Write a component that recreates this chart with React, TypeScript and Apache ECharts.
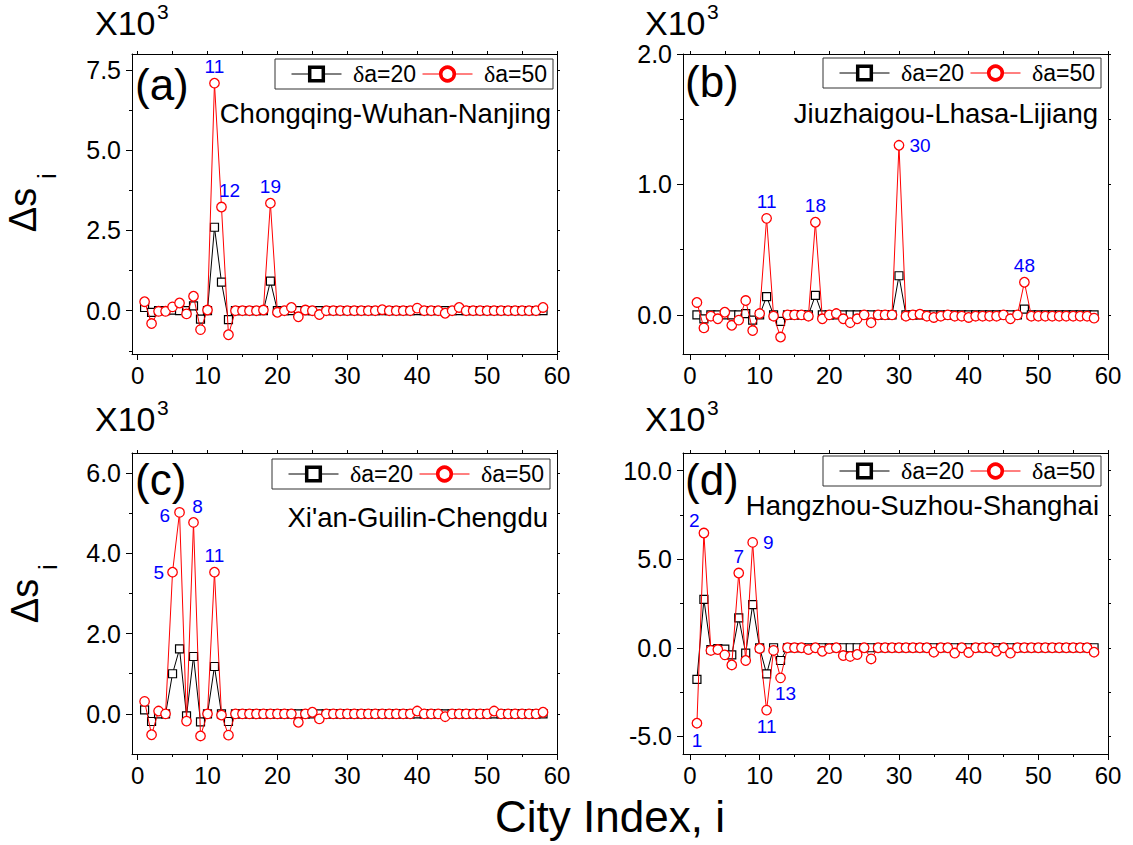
import React, { useEffect, useRef } from "react";
import * as echarts from "echarts";

// ---------- data ----------
const cityIndex = [
  1, 2, 3, 4, 5, 6, 7, 8, 9, 10, 11, 12, 13, 14, 15, 16, 17, 18, 19, 20,
  21, 22, 23, 24, 25, 26, 27, 28, 29, 30, 31, 32, 33, 34, 35, 36, 37, 38, 39, 40,
  41, 42, 43, 44, 45, 46, 47, 48, 49, 50, 51, 52, 53, 54, 55, 56, 57, 58,
];

const seriesNames = ["δa=20", "δa=50"];

// (a) Chongqing-Wuhan-Nanjing  (x10^3)
const ds20A = [
  0.1, -0.05, 0, 0, 0.02, 0, 0, 0.15, -0.26, 0,
  2.6, 0.89, -0.28, 0, 0, 0, 0, 0, 0.92, 0,
  0, 0, 0, 0, 0, 0, 0, 0, 0, 0,
  0, 0, 0, 0, 0, 0, 0, 0, 0, 0,
  0, 0, 0, 0, 0, 0, 0, 0, 0, 0,
  0, 0, 0, 0, 0, 0, 0, 0,
];
const ds50A = [
  0.28, -0.4, -0.02, -0.02, 0.12, 0.24, -0.1, 0.45, -0.59, 0.02,
  7.09, 3.23, -0.75, 0, 0, 0, 0, 0.02, 3.35, -0.05,
  0, 0.1, -0.19, 0.02, 0, -0.12, 0, 0, 0, 0,
  0, 0, 0, 0, 0.03, 0, 0, 0, 0, 0.08,
  0, 0, 0, -0.08, 0, 0.1, 0, 0, 0, 0,
  0, 0, 0, 0, 0, 0, 0, 0.1,
];

// (b) Jiuzhaigou-Lhasa-Lijiang
const ds20B = [
  0, -0.03, 0, 0, 0, 0, 0, 0.01, -0.04, 0,
  0.14, 0, -0.05, 0, 0, 0, 0, 0.15, 0, 0,
  0, 0, 0, 0, 0, 0, 0, 0, 0, 0.3,
  0, 0, 0, 0, 0, 0, 0, 0, 0, 0,
  0, 0, 0, 0, 0, 0, 0, 0.044, 0, 0,
  0, 0, 0, 0, 0, 0, 0, 0,
];
const ds50B = [
  0.095, -0.1, -0.01, -0.03, 0.02, -0.08, -0.04, 0.11, -0.12, 0.01,
  0.74, -0.01, -0.17, 0, 0, 0, -0.01, 0.71, -0.03, 0,
  0.01, -0.03, -0.06, -0.03, 0, -0.06, 0, 0, 0, 1.3,
  -0.01, 0, 0.005, -0.01, -0.02, -0.01, 0, -0.01, -0.01, -0.02,
  -0.01, -0.01, -0.01, -0.01, 0, -0.03, 0, 0.25, -0.01, -0.01,
  -0.01, -0.01, -0.01, -0.01, -0.01, -0.01, -0.01, -0.025,
];

// (c) Xi'an-Guilin-Chengdu
const ds20C = [
  0.1, -0.19, 0, 0, 1.0, 1.62, -0.05, 1.43, -0.2, 0,
  1.18, 0, -0.19, 0, 0, 0, 0, 0, 0, 0,
  0, 0, 0, 0, 0, 0, 0, 0, 0, 0,
  0, 0, 0, 0, 0, 0, 0, 0, 0, 0,
  0, 0, 0, 0, 0, 0, 0, 0, 0, 0,
  0, 0, 0, 0, 0, 0, 0, 0,
];
const ds50C = [
  0.31, -0.52, 0.07, 0, 3.53, 5.02, -0.18, 4.77, -0.55, 0,
  3.53, -0.03, -0.53, 0, 0, 0, 0, 0, 0, 0,
  0, 0, -0.21, 0, 0.04, -0.125, 0, 0, 0, 0,
  0, 0, 0, 0, 0, 0, 0, 0, 0, 0.07,
  0, 0, 0, -0.07, 0, 0, 0, 0, 0, 0,
  0.07, 0, 0, 0, 0, 0, 0, 0.04,
];

// (d) Hangzhou-Suzhou-Shanghai
const ds20D = [
  -1.78, 2.73, -0.1, -0.05, -0.08, -0.4, 1.69, -0.3, 2.44, 0,
  -1.48, 0, -0.72, 0, 0, 0, 0, 0, 0, 0,
  0, 0, 0, 0, 0, 0, 0, 0, 0, 0,
  0, 0, 0, 0, 0, 0, 0, 0, 0, 0,
  0, 0, 0, 0, 0, 0, 0, 0, 0, 0,
  0, 0, 0, 0, 0, 0, 0, 0,
];
const ds50D = [
  -4.26, 6.48, -0.15, -0.1, -0.4, -0.97, 4.22, -0.72, 5.95, -0.04,
  -3.52, -0.15, -1.7, 0, 0, 0, -0.1, 0, -0.2, -0.05,
  0, -0.44, -0.49, -0.38, 0, -0.63, 0, 0, 0, 0,
  0, 0, 0, 0, -0.25, 0, 0, -0.3, 0, -0.27,
  0, 0, 0, -0.2, 0, -0.3, 0, 0, 0, 0,
  0, 0, 0, 0, 0, 0, 0, -0.25,
];

// tick labels
const xMajorTicks = [0, 10, 20, 30, 40, 50, 60];
const xMinorTicks = [5, 15, 25, 35, 45, 55];
const yMajorA = [0, 2.5, 5.0, 7.5];
const yMinorA = [-1.25, 1.25, 3.75, 6.25];
const yMajorB = [0, 1.0, 2.0];
const yMinorB = [0.5, 1.5];
const yMajorC = [0, 2.0, 4.0, 6.0];
const yMinorC = [1.0, 3.0, 5.0];
const yMajorD = [-5.0, 0, 5.0, 10.0];
const yMinorD = [-2.5, 2.5, 7.5];

// annotated city indices
const annA = [11, 12, 19];
const annB = [11, 18, 30, 48];
const annC = [5, 6, 8, 11];
const annD = [1, 2, 7, 9, 11, 13];

const panelLetters = ["(a)", "(b)", "(c)", "(d)"];
const routes = [
  "Chongqing-Wuhan-Nanjing",
  "Jiuzhaigou-Lhasa-Lijiang",
  "Xi'an-Guilin-Chengdu",
  "Hangzhou-Suzhou-Shanghai",
];
const scaleText = "X10";
const scaleExp = "3";
const yTitle = "Δs";
const yTitleSub = "i";
const xTitle = "City Index, i";

// ---------- layout / style (not data) ----------
const FONT = "'Liberation Sans', Arial, sans-serif";

const layout = [
  { grid: { left: 132, top: 54, width: 425, height: 300 }, xMin: -0.8, yMin: -1.35, yMax: 8.0,
    legend: { left: 275, top: 59 }, route: { x: 551, y: 113 }, letter: { x: 135, y: 84 },
    scale: { x: 95, y: 23 }, ytitle: { x: 23, y: 210, sx: 47, sy: 176 } },
  { grid: { left: 683, top: 54, width: 425, height: 300 }, xMin: -1.0, yMin: -0.3, yMax: 2.0,
    legend: { left: 823, top: 58 }, route: { x: 1098, y: 113 }, letter: { x: 685, y: 81 },
    scale: { x: 645, y: 23 } },
  { grid: { left: 132, top: 453, width: 425, height: 301 }, xMin: -0.8, yMin: -1.0, yMax: 6.5,
    legend: { left: 272, top: 459 }, route: { x: 548, y: 517 }, letter: { x: 135, y: 479 },
    scale: { x: 95, y: 419 }, ytitle: { x: 25, y: 601, sx: 48, sy: 567 } },
  { grid: { left: 683, top: 453, width: 425, height: 301 }, xMin: -1.0, yMin: -6.0, yMax: 11.0,
    legend: { left: 823, top: 456 }, route: { x: 1099, y: 505 }, letter: { x: 685, y: 479 },
    scale: { x: 645, y: 419 } },
];

const labelPlacement: Record<string, any>[] = [
  { 11: { position: "top", distance: 2 }, 12: { position: "top", distance: 2, offset: [8, 0] }, 19: { position: "top", distance: 2 } },
  { 11: { position: "top", distance: 2 }, 18: { position: "top", distance: 2 }, 30: { position: "right", distance: 5 }, 48: { position: "top", distance: 2 } },
  { 5: { position: "left", distance: 3 }, 6: { position: "left", distance: 4, offset: [0, 3] }, 8: { position: "top", distance: 1, offset: [4, 0] }, 11: { position: "top", distance: 2 } },
  { 1: { position: "bottom", distance: 2 }, 2: { position: "left", distance: 1, offset: [2, -13] }, 7: { position: "top", distance: 2 }, 9: { position: "right", distance: 5 }, 11: { position: "bottom", distance: 2 }, 13: { position: "bottom", distance: 1, offset: [5, 0] } },
];

function buildOption() {
  const s20 = [ds20A, ds20B, ds20C, ds20D];
  const s50 = [ds50A, ds50B, ds50C, ds50D];
  const yMaj = [yMajorA, yMajorB, yMajorC, yMajorD];
  const yMin = [yMinorA, yMinorB, yMinorC, yMinorD];
  const anns = [annA, annB, annC, annD];

  const grids: any[] = [];
  const xAxis: any[] = [];
  const yAxis: any[] = [];
  const series: any[] = [];
  const legend: any[] = [];
  const graphic: any[] = [];

  const line = { color: "#000", width: 1 };

  layout.forEach((L, gi) => {
    grids.push({ ...L.grid, containLabel: false });
    const xb = { gridIndex: gi, type: "value", min: L.xMin, max: 60, splitLine: { show: false } };
    xAxis.push(
      { ...xb, position: "bottom",
        axisLine: { onZero: false, lineStyle: line },
        axisTick: { customValues: xMajorTicks, length: 6, lineStyle: line },
        axisLabel: { customValues: xMajorTicks, fontSize: 24, color: "#000", margin: 9, fontFamily: FONT } },
      { ...xb, position: "bottom",
        axisLine: { show: false, onZero: false },
        axisTick: { customValues: xMinorTicks, length: 3, lineStyle: line },
        axisLabel: { show: false } },
      { ...xb, position: "top",
        axisLine: { onZero: false, lineStyle: line },
        axisTick: { customValues: [...xMajorTicks, ...xMinorTicks], length: 3, lineStyle: line },
        axisLabel: { show: false } }
    );
    const yb = { gridIndex: gi, type: "value", min: L.yMin, max: L.yMax, splitLine: { show: false } };
    yAxis.push(
      { ...yb, position: "left",
        axisLine: { onZero: false, lineStyle: line },
        axisTick: { customValues: yMaj[gi], length: 6, lineStyle: line },
        axisLabel: { customValues: yMaj[gi], fontSize: 25, color: "#000", margin: 11, fontFamily: FONT,
          formatter: (v: number) => v.toFixed(1) } },
      { ...yb, position: "left",
        axisLine: { show: false, onZero: false },
        axisTick: { customValues: yMin[gi], length: 3, lineStyle: line },
        axisLabel: { show: false } },
      { ...yb, position: "right",
        axisLine: { onZero: false, lineStyle: line },
        axisTick: { customValues: [...yMaj[gi], ...yMin[gi]], length: 3, lineStyle: line },
        axisLabel: { show: false } }
    );

    const place = labelPlacement[gi];
    series.push(
      {
        type: "line", name: seriesNames[0], xAxisIndex: gi * 3, yAxisIndex: gi * 3,
        data: cityIndex.map((c, k) => [c, s20[gi][k]]),
        symbol: "rect", symbolSize: 8,
        itemStyle: { color: "#fff", borderColor: "#000", borderWidth: 1.2 },
        lineStyle: { color: "#000", width: 1 },
        z: 2,
      },
      {
        type: "line", name: seriesNames[1], xAxisIndex: gi * 3, yAxisIndex: gi * 3,
        data: cityIndex.map((c, k) => {
          const v = s50[gi][k];
          if (anns[gi].includes(c)) {
            return {
              value: [c, v],
              label: { show: true, formatter: String(c), color: "#0000ff", fontSize: 19, fontFamily: FONT, ...place[c] },
            };
          }
          return [c, v];
        }),
        symbol: "circle", symbolSize: 9.5,
        itemStyle: { color: "#fff", borderColor: "#ff0000", borderWidth: 1.3 },
        lineStyle: { color: "#ff0000", width: 1 },
        z: 3,
      }
    );

    legend.push({
      left: L.legend.left, top: L.legend.top,
      data: seriesNames,
      selectedMode: false,
      orient: "horizontal",
      itemWidth: 50, itemHeight: 17, itemGap: 6,
      padding: [3, 6, 3, 16],
      borderColor: "#333", borderWidth: 1, backgroundColor: "#fff",
      itemStyle: { borderWidth: 3.5 },
      lineStyle: { width: 1 },
      formatter: (name: string) => " {s|" + name.charAt(0) + "}" + name.slice(1),
      textStyle: { fontSize: 23, color: "#000", fontFamily: FONT,
        rich: { s: { fontFamily: "'Liberation Serif', 'DejaVu Serif', serif", fontSize: 24, color: "#000" } } },
    });

    graphic.push(
      { type: "text", x: L.route.x, y: L.route.y,
        style: { text: routes[gi], font: `27.5px ${FONT}`, fill: "#000", textAlign: "right", textVerticalAlign: "middle" } },
      { type: "text", x: L.letter.x, y: L.letter.y,
        style: { text: panelLetters[gi], font: `44px ${FONT}`, fill: "#000", textAlign: "left", textVerticalAlign: "middle" } },
      { type: "text", x: L.scale.x, y: L.scale.y,
        style: { text: scaleText, font: `34px ${FONT}`, fill: "#000", textAlign: "left", textVerticalAlign: "middle" } },
      { type: "text", x: L.scale.x + 62, y: L.scale.y - 12,
        style: { text: scaleExp, font: `21px ${FONT}`, fill: "#000", textAlign: "left", textVerticalAlign: "middle" } }
    );
    if ((L as any).ytitle) {
      const t = (L as any).ytitle;
      graphic.push(
        { type: "text", x: t.x, y: t.y, rotation: Math.PI / 2,
          style: { text: yTitle, font: `38px ${FONT}`, fill: "#000", textAlign: "center", textVerticalAlign: "middle" } },
        { type: "text", x: t.sx, y: t.sy, rotation: Math.PI / 2,
          style: { text: yTitleSub, font: `26px ${FONT}`, fill: "#000", textAlign: "center", textVerticalAlign: "middle" } }
      );
    }
  });

  graphic.push({
    type: "text", x: 610, y: 816,
    style: { text: xTitle, font: `44px ${FONT}`, fill: "#000", textAlign: "center", textVerticalAlign: "middle" },
  });

  return {
    animation: false,
    backgroundColor: "#fff",
    textStyle: { fontFamily: FONT },
    grid: grids,
    xAxis,
    yAxis,
    series,
    legend,
    graphic,
  };
}

export default function App() {
  const ref = useRef<HTMLDivElement>(null);
  useEffect(() => {
    if (!ref.current) return;
    const chart = echarts.init(ref.current, undefined, { renderer: "svg" });
    chart.setOption(buildOption() as any);
    return () => chart.dispose();
  }, []);
  return (
    <div
      ref={ref}
      style={{ position: "absolute", left: 0, top: 0, width: 1133, height: 845, background: "#fff" }}
    />
  );
}
